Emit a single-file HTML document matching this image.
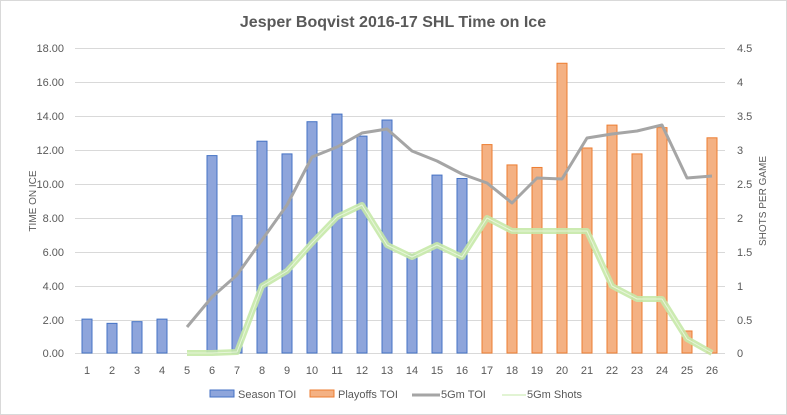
<!DOCTYPE html><html><head><style>body{margin:0;background:#fff}svg{display:block;font-family:"Liberation Sans",sans-serif}</style></head><body>
<svg width="787" height="415" viewBox="0 0 787 415" xmlns="http://www.w3.org/2000/svg">
<rect x="0.5" y="0.5" width="786" height="414" fill="#fff" stroke="#d9d9d9"/>
<text x="393" y="27" text-anchor="middle" font-size="16" font-weight="bold" fill="#595959">Jesper Boqvist 2016-17 SHL Time on Ice</text>
<g stroke="#d9d9d9" stroke-width="1">
<line x1="75" x2="725" y1="48.5" y2="48.5"/><line x1="75" x2="725" y1="82.5" y2="82.5"/><line x1="75" x2="725" y1="116.5" y2="116.5"/><line x1="75" x2="725" y1="150.5" y2="150.5"/><line x1="75" x2="725" y1="184.5" y2="184.5"/><line x1="75" x2="725" y1="218.5" y2="218.5"/><line x1="75" x2="725" y1="252.5" y2="252.5"/><line x1="75" x2="725" y1="286.5" y2="286.5"/><line x1="75" x2="725" y1="320.5" y2="320.5"/><line x1="75" x2="725" y1="353.5" y2="353.5"/>
</g>
<g font-size="11" fill="#595959" text-anchor="end">
<text x="64" y="52">18.00</text><text x="64" y="86">16.00</text><text x="64" y="120">14.00</text><text x="64" y="154">12.00</text><text x="64" y="188">10.00</text><text x="64" y="222">8.00</text><text x="64" y="256">6.00</text><text x="64" y="290">4.00</text><text x="64" y="324">2.00</text><text x="64" y="357">0.00</text>
</g>
<g font-size="11" fill="#595959">
<text x="737" y="52">4.5</text><text x="737" y="86">4</text><text x="737" y="120">3.5</text><text x="737" y="154">3</text><text x="737" y="188">2.5</text><text x="737" y="222">2</text><text x="737" y="256">1.5</text><text x="737" y="290">1</text><text x="737" y="324">0.5</text><text x="737" y="357">0</text>
</g>
<text transform="translate(36,201) rotate(-90)" text-anchor="middle" font-size="10" fill="#595959">TIME ON ICE</text>
<text transform="translate(766,201) rotate(-90)" text-anchor="middle" font-size="10" fill="#595959">SHOTS PER GAME</text>
<g id="bars"></g>
<g id="xl" font-size="11" fill="#595959" text-anchor="middle"></g>
<polyline id="gray" fill="none" stroke="#a5a5a5" stroke-width="3" stroke-linejoin="round"/>
<polyline id="g1" fill="none" stroke="#c6e9a9" stroke-width="6" stroke-linejoin="round" opacity="0.9"/>
<polyline id="g2" fill="none" stroke="#e6f6d9" stroke-width="1" stroke-linejoin="round"/>
<g font-size="11" fill="#595959">
<rect x="210" y="390" width="24" height="7" fill="#8ea5db" stroke="#4472c4"/><text x="238" y="398">Season TOI</text>
<rect x="310" y="390" width="24" height="7" fill="#f4b183" stroke="#ed7d31"/><text x="338" y="398">Playoffs TOI</text>
<line x1="412" x2="440" y1="395" y2="395" stroke="#a5a5a5" stroke-width="3"/><text x="441" y="398">5Gm TOI</text>
<line x1="502" x2="526" y1="395" y2="395" stroke="#c6e9a9" stroke-width="1"/><text x="527" y="398">5Gm Shots</text>
</g>
<script>
var v=[2,1.75,1.85,2,0,11.65,8.1,12.5,11.75,13.65,14.1,12.8,13.75,5.8,10.5,10.3,12.3,11.1,10.95,17.1,12.1,13.45,11.75,13.3,1.3,12.7];
var gy=[327,297,275,240,205,157,147,133,129,151,161,174,183,203,178,179,138,134,131,125,178,176];
var gr=[353,353,352,286,271,243,217,205,245,257,245,257,218,231,231,231,231,286,299,299,339,353];
var ns="http://www.w3.org/2000/svg",b=document.getElementById('bars'),xl=document.getElementById('xl');
for(var i=0;i<26;i++){var cx=87+i*25;
 if(v[i]>0){var h=v[i]*16.944,r=document.createElementNS(ns,'rect');r.setAttribute('x',cx-5);r.setAttribute('y',353-h);r.setAttribute('width',10);r.setAttribute('height',h);
 r.setAttribute('fill',i<16?'#8ea5db':'#f4b183');r.setAttribute('stroke',i<16?'#4472c4':'#ed7d31');b.appendChild(r);}
 var t=document.createElementNS(ns,'text');t.setAttribute('x',cx);t.setAttribute('y',374);t.textContent=i+1;xl.appendChild(t);}
function pts(a){return a.map(function(y,k){return (87+(k+4)*25)+','+y}).join(' ')}
document.getElementById('gray').setAttribute('points',pts(gy));
document.getElementById('g1').setAttribute('points',pts(gr));
document.getElementById('g2').setAttribute('points',pts(gr));
</script>
</svg></body></html>
